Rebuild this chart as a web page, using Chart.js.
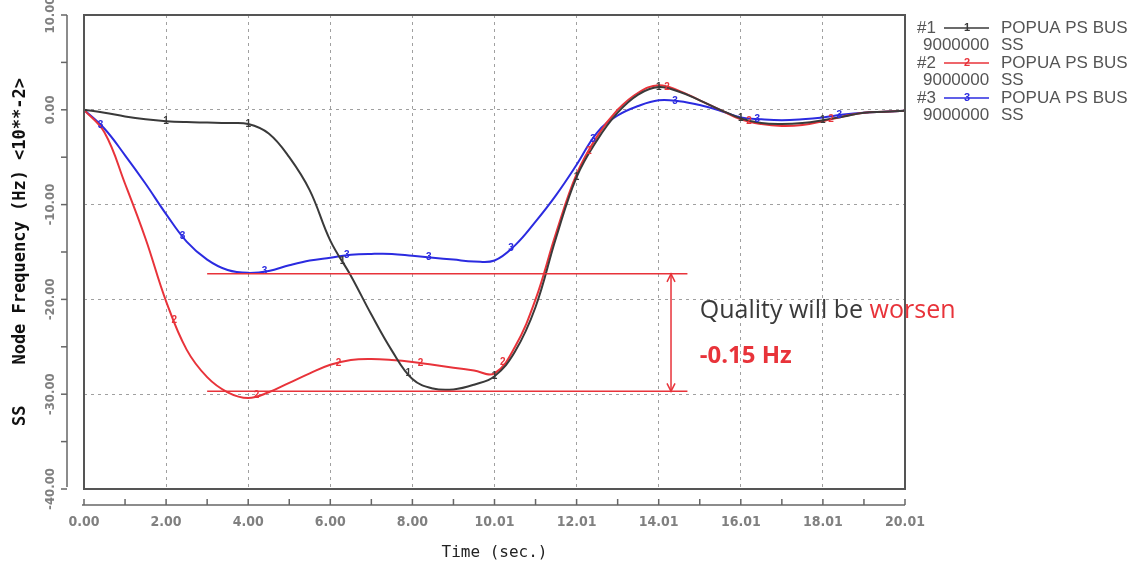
<!DOCTYPE html>
<html><head><meta charset="utf-8">
<script src="https://cdn.jsdelivr.net/npm/chart.js@4/dist/chart.umd.min.js"></script>
<style>html,body{margin:0;padding:0;background:#fff;}</style>
</head><body>
<canvas id="c" width="1139" height="570"></canvas>
<script>
// ---- data ----
const timeSec = [0,0.5,1,1.5,2,2.5,3,3.5,4,4.5,5,5.5,6,6.5,7,7.5,8,8.5,9,9.5,10,10.5,11,11.5,12,12.5,13,13.5,14,14.5,15,15.5,16,16.5,17,17.5,18,18.5,19,19.5,20];
const series1 = [0,-0.3,-0.7,-1.0,-1.2,-1.3,-1.35,-1.4,-1.5,-2.5,-5.0,-8.5,-13.8,-17.5,-21.6,-25.4,-28.4,-29.4,-29.5,-29.0,-28.1,-25.5,-20.8,-13.5,-7.1,-3.2,-0.3,1.6,2.4,1.9,1.0,0.0,-0.9,-1.4,-1.5,-1.4,-1.1,-0.7,-0.3,-0.2,-0.1];
const series2 = [0,-2.4,-7.8,-13.6,-20.2,-25.3,-28.2,-29.8,-30.4,-29.8,-28.8,-27.8,-26.9,-26.4,-26.3,-26.4,-26.6,-26.9,-27.2,-27.5,-27.8,-25.0,-20.0,-13.0,-6.8,-2.8,0.0,1.8,2.6,2.0,1.0,0.0,-1.0,-1.5,-1.7,-1.6,-1.2,-0.7,-0.3,-0.2,-0.1];
const series3 = [0,-2.0,-4.8,-7.8,-11.0,-13.9,-15.8,-16.9,-17.2,-17.0,-16.4,-15.9,-15.6,-15.3,-15.2,-15.2,-15.4,-15.6,-15.8,-16.0,-15.9,-14.3,-11.8,-9.0,-5.8,-2.4,-0.6,0.4,1.0,0.9,0.5,-0.1,-0.8,-1.0,-1.1,-1.0,-0.8,-0.5,-0.3,-0.2,-0.1];
const seriesIds = ['#1','#2','#3'];
const seriesMarks = ['1','2','3'];
const seriesNames = ['POPUA PS BUS','POPUA PS BUS','POPUA PS BUS'];
const seriesSub = ['9000000','9000000','9000000'];
const seriesSub2 = ['SS','SS','SS'];
const markerTimes = [
  [2,4,6.3,7.9,10,12,14,16,18],
  [2.2,4.2,6.2,8.2,10.2,12.3,14.2,16.2,18.2],
  [0.4,2.4,4.4,6.4,8.4,10.4,12.4,14.4,16.4,18.4]
];
const xTickLabels = ['0.00','2.00','4.00','6.00','8.00','10.01','12.01','14.01','16.01','18.01','20.01'];
const yTickLabels = {'10':'10.00','0':'0.00','-10':'-10.00','-20':'-20.00','-30':'-30.00','-40':'-40.00'};
const yTitle = 'SS    Node Frequency (Hz) <10**-2>';
const xTitle = 'Time (sec.)';
const bandLevels = [-17.3, -29.7];
const bandTimes = [3.0, 14.7];
const arrowTime = 14.3;
const noteText1 = 'Quality will be ';
const noteText2 = 'worsen';
const noteText3 = '-0.15 Hz';

const colors = ['#3a3a3a', '#e8333a', '#2b2be0'];
const series = [series1, series2, series3];

const datasets = series.map((s, k) => ({
  label: seriesNames[k],
  data: timeSec.map((t, i) => ({x: t, y: s[i]})),
  borderColor: colors[k],
  borderWidth: 2,
  pointRadius: 0,
  tension: 0.4,
  fill: false
}));

const deco = {
  id: 'deco',
  afterDatasetsDraw(chart) {
    const ctx = chart.ctx, xs = chart.scales.x, ys = chart.scales.y, ca = chart.chartArea;
    ctx.save();
    // series number markers
    ctx.font = 'bold 10px "Liberation Sans"';
    ctx.textAlign = 'center'; ctx.textBaseline = 'middle';
    markerTimes.forEach((arr, k) => {
      const meta = chart.getDatasetMeta(k);
      ctx.fillStyle = colors[k];
      arr.forEach(t => {
        let i = 0;
        while (i < timeSec.length - 2 && timeSec[i + 1] < t) i++;
        const a = meta.data[i], b = meta.data[i + 1];
        const f = (t - timeSec[i]) / (timeSec[i + 1] - timeSec[i]);
        const px = a.x + (b.x - a.x) * f, py = a.y + (b.y - a.y) * f;
        ctx.fillText(seriesMarks[k], px, py);
      });
    });
    // annotation band
    ctx.strokeStyle = '#e8333a'; ctx.lineWidth = 1.5;
    const x0 = xs.getPixelForValue(bandTimes[0]), x1 = xs.getPixelForValue(bandTimes[1]);
    bandLevels.forEach(v => {
      const y = ys.getPixelForValue(v);
      ctx.beginPath(); ctx.moveTo(x0, y); ctx.lineTo(x1, y); ctx.stroke();
    });
    const ax = xs.getPixelForValue(arrowTime);
    const ya = ys.getPixelForValue(bandLevels[0]), yb = ys.getPixelForValue(bandLevels[1]);
    ctx.beginPath(); ctx.moveTo(ax, ya); ctx.lineTo(ax, yb); ctx.stroke();
    ctx.beginPath();
    ctx.moveTo(ax - 4, ya + 8); ctx.lineTo(ax, ya); ctx.lineTo(ax + 4, ya + 8);
    ctx.moveTo(ax - 4, yb - 8); ctx.lineTo(ax, yb); ctx.lineTo(ax + 4, yb - 8);
    ctx.stroke();
    // note text
    const tx = xs.getPixelForValue(15.0);
    ctx.textAlign = 'left'; ctx.textBaseline = 'middle';
    ctx.font = '25px "Open Sans"';
    ctx.fillStyle = '#3a3a3a';
    const y1 = ys.getPixelForValue(-21.2);
    ctx.fillText(noteText1, tx, y1);
    const w1 = ctx.measureText(noteText1).width;
    ctx.fillStyle = '#e8333a';
    ctx.fillText(noteText2, tx + w1, y1);
    ctx.font = 'bold 24px "Open Sans"';
    ctx.fillText(noteText3, tx, ys.getPixelForValue(-26.0));
    // frame
    ctx.strokeStyle = '#555'; ctx.lineWidth = 2;
    ctx.strokeRect(ca.left, ca.top, ca.right - ca.left, ca.bottom - ca.top);
    ctx.restore();
  },
  afterDraw(chart) {
    const ctx = chart.ctx, xs = chart.scales.x, ys = chart.scales.y, ca = chart.chartArea;
    ctx.save();
    ctx.strokeStyle = '#666'; ctx.lineWidth = 1.5;
    // offset y axis
    const axX = ca.left - 17;
    ctx.beginPath(); ctx.moveTo(axX, ca.top); ctx.lineTo(axX, ca.bottom - 2); ctx.stroke();
    ys.ticks.forEach(t => {
      const y = ys.getPixelForValue(t.value);
      ctx.beginPath(); ctx.moveTo(axX - 6, y); ctx.lineTo(axX, y); ctx.stroke();
    });
    // offset x axis
    const axY = ca.bottom + 16;
    ctx.beginPath(); ctx.moveTo(ca.left - 2, axY); ctx.lineTo(ca.right, axY); ctx.stroke();
    xs.ticks.forEach(t => {
      const x = xs.getPixelForValue(t.value);
      ctx.beginPath(); ctx.moveTo(x, axY - 6); ctx.lineTo(x, axY); ctx.stroke();
    });
    // legend
    ctx.textBaseline = 'middle'; ctx.textAlign = 'left';
    const lx = ca.right + 12;
    const fnt = '17px "Liberation Sans"';
    seriesNames.forEach((name, k) => {
      const y = ca.top + 13 + k * 35;
      ctx.font = fnt;
      ctx.fillStyle = '#555';
      ctx.fillText(seriesIds[k], lx, y);
      ctx.strokeStyle = colors[k]; ctx.lineWidth = 1.5;
      ctx.beginPath(); ctx.moveTo(lx + 27, y); ctx.lineTo(lx + 72, y); ctx.stroke();
      ctx.fillStyle = colors[k];
      ctx.font = 'bold 11px "Liberation Sans"';
      ctx.textAlign = 'center';
      ctx.fillText(seriesMarks[k], lx + 50, y);
      ctx.textAlign = 'left';
      ctx.font = fnt;
      ctx.fillStyle = '#555';
      ctx.fillText(name, lx + 84, y);
      ctx.fillText(seriesSub[k], lx + 6, y + 17);
      ctx.fillText(seriesSub2[k], lx + 84, y + 17);
    });
    ctx.restore();
  }
};

new Chart(document.getElementById('c'), {
  type: 'line',
  data: { datasets },
  options: {
    responsive: false,
    animation: false,
    devicePixelRatio: 1,
    layout: { padding: { left: 0, top: 15, right: 234, bottom: 0 } },
    plugins: { legend: { display: false }, tooltip: { enabled: false } },
    scales: {
      x: {
        type: 'linear', min: 0, max: 20,
        afterFit: s => { s.height = 81; s.paddingLeft = 0; s.paddingRight = 0; },
        border: { display: false, dash: [3, 4] },
        grid: {
          drawTicks: false,
          lineWidth: 1,
          color: c => (c.tick && c.tick.value % 2 === 0 && c.tick.value > 0 && c.tick.value < 20) ? '#a0a0a0' : 'rgba(0,0,0,0)'
        },
        ticks: {
          stepSize: 1, autoSkip: false, maxRotation: 0, minRotation: 0, padding: 25,
          color: '#808080',
          font: { family: '"DejaVu Sans Condensed"', size: 14, weight: 'bold' },
          callback: v => (v % 2 === 0) ? xTickLabels[v / 2] : ''
        },
        title: {
          display: true, text: xTitle, color: '#222',
          font: { family: '"DejaVu Sans Mono"', size: 16 },
          padding: { top: 0, bottom: 8 }
        }
      },
      y: {
        type: 'linear', min: -40, max: 10,
        afterFit: s => { s.width = 84; s.paddingTop = 0; s.paddingBottom = 0; },
        border: { display: false, dash: [3, 4] },
        grid: {
          drawTicks: false,
          lineWidth: 1,
          color: c => (c.tick && c.tick.value % 10 === 0 && c.tick.value > -40 && c.tick.value < 10) ? '#a0a0a0' : 'rgba(0,0,0,0)'
        },
        ticks: {
          stepSize: 5, autoSkip: false, minRotation: 90, maxRotation: 90,
          crossAlign: 'center', padding: 12,
          color: '#808080',
          font: { family: '"DejaVu Sans Condensed"', size: 13, weight: 'bold' },
          callback: v => (v % 10 === 0) ? yTickLabels[String(v)] : ''
        },
        title: {
          display: true, text: yTitle, color: '#111',
          font: { family: '"DejaVu Sans Mono"', size: 17, weight: 'bold' },
          padding: { top: 10, bottom: 0 }
        }
      }
    }
  },
  plugins: [deco]
});
</script>
</body></html>
